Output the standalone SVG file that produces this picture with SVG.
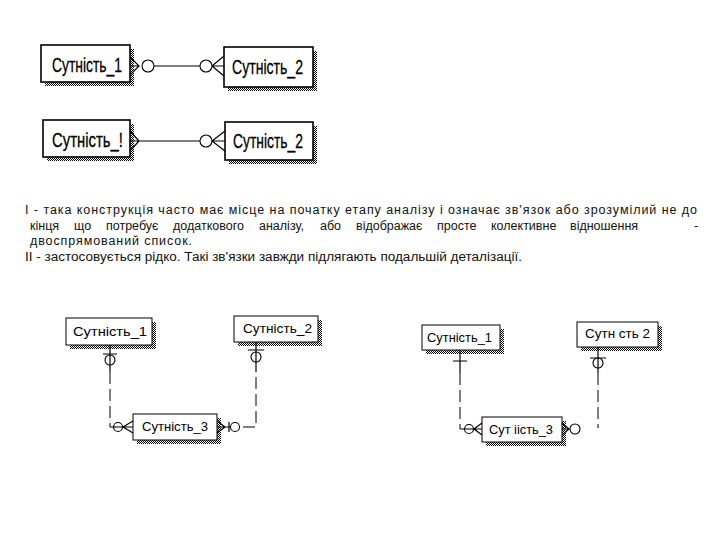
<svg xmlns="http://www.w3.org/2000/svg" width="720" height="540" viewBox="0 0 720 540">
<defs>
<pattern id="dots" width="2" height="2" patternUnits="userSpaceOnUse"><rect width="2" height="2" fill="#fff"/><rect width="1" height="1" fill="#000"/><rect x="1" y="1" width="1" height="1" fill="#000"/></pattern>
</defs>
<style>
.sh{fill:url(#dots)}
.box{fill:#fff;stroke:#000;stroke-width:1}
.boxT{fill:#fff;stroke:#000;stroke-width:1.6}
.lblT{font-family:"Liberation Sans",Arial,sans-serif;font-size:20px;fill:#000;stroke:#000;stroke-width:0.3}
.lbl{font-family:"Liberation Sans",Arial,sans-serif;font-size:13px;fill:#000}
.txt{font-family:"Liberation Sans",Arial,sans-serif;font-size:12.5px;fill:#111}
.ln{fill:none;stroke:#000;stroke-width:1.2}
.dash{fill:none;stroke:#000;stroke-width:1;stroke-dasharray:12 5}
.c{fill:#fff;stroke:#000;stroke-width:1.1}
</style>
<rect width="720" height="540" fill="#fff"/>

<g id="A1"><rect class="sh" x="45" y="49" width="89" height="37"/><rect class="boxT" x="41" y="45" width="89" height="37"/><text class="lblT" x="52" y="72" textLength="70" lengthAdjust="spacingAndGlyphs">Сутність_1</text></g>
<g id="A2"><rect class="sh" x="228" y="51" width="89" height="40"/><rect class="boxT" x="224" y="47" width="89" height="40"/><text class="lblT" x="232" y="74" textLength="71" lengthAdjust="spacingAndGlyphs">Сутність_2</text></g>
<g id="B1"><rect class="sh" x="47" y="124" width="87" height="37"/><rect class="boxT" x="43" y="120" width="87" height="37"/><text class="lblT" x="52" y="147" textLength="71" lengthAdjust="spacingAndGlyphs">Сутність_!</text></g>
<g id="B2"><rect class="sh" x="229" y="126" width="88" height="38"/><rect class="boxT" x="225" y="122" width="88" height="38"/><text class="lblT" x="233" y="148" textLength="70" lengthAdjust="spacingAndGlyphs">Сутність_2</text></g>

<g id="C1"><rect class="sh" x="70" y="322" width="86" height="27"/><rect class="box" x="66" y="318" width="86" height="27"/><text class="lbl" x="73" y="336" textLength="74" lengthAdjust="spacingAndGlyphs">Сутність_1</text></g>
<g id="C2"><rect class="sh" x="238" y="320" width="84" height="26"/><rect class="box" x="234" y="316" width="84" height="26"/><text class="lbl" x="243" y="333" textLength="69" lengthAdjust="spacingAndGlyphs">Сутність_2</text></g>
<g id="C3"><rect class="sh" x="137" y="418" width="84" height="26"/><rect class="box" x="133" y="414" width="84" height="26"/><text class="lbl" x="142" y="431" textLength="66" lengthAdjust="spacingAndGlyphs">Сутність_3</text></g>
<g id="D1"><rect class="sh" x="426" y="329" width="78" height="25"/><rect class="box" x="422" y="325" width="78" height="25"/><text class="lbl" x="427" y="342" textLength="65" lengthAdjust="spacingAndGlyphs">Сутність_1</text></g>
<g id="D2"><rect class="sh" x="581" y="326" width="81" height="25"/><rect class="box" x="577" y="322" width="81" height="25"/><text class="lbl" x="585" y="338" textLength="65" lengthAdjust="spacingAndGlyphs">Сутн сть 2</text></g>
<g id="D3"><rect class="sh" x="486" y="421" width="80" height="25"/><rect class="box" x="482" y="417" width="80" height="25"/><text class="lbl" x="489" y="434" textLength="64" lengthAdjust="spacingAndGlyphs">Сут іість_3</text></g>

<g id="connectors">
<path class="ln" d="M130 57 L139 66 L130 75 M130 66 H139 M154 66 H200 M212 66 L224 56 M212 66 H224 M212 66 L224 76"/>
<circle class="c" cx="148" cy="66" r="6"/>
<circle class="c" cx="206" cy="66" r="6"/>
<path class="ln" d="M130 131 L139 141 L130 151 M130 141 H200 M212 141 L225 131 M212 141 H225 M212 141 L225 151"/>
<circle class="c" cx="206" cy="141" r="6"/>
<path class="ln" d="M110 345 V372 M103 354 H117 M110 427 H133 M123 427 L133 421 M123 427 L133 433"/>
<path class="dash" d="M110 372 V427"/>
<circle cx="110" cy="360" r="5" fill="none" stroke="#000" stroke-width="1.1"/>
<circle cx="118" cy="427" r="4.5" fill="none" stroke="#000" stroke-width="1.1"/>
<path class="ln" d="M217 421 L225 427 L217 433 M217 427 H240 M229 422 V432 M256 342 V372 M248 350 H264"/>
<circle class="c" cx="235" cy="427" r="4.5"/>
<path class="dash" d="M243 427 H256 V372"/>
<circle cx="256" cy="357" r="5" fill="none" stroke="#000" stroke-width="1.1"/>
<path class="ln" d="M460 350 V373 M453 361 H467 M460 429 H482 M474 429 L482 423 M474 429 L482 435"/>
<path class="dash" d="M460 373 V429"/>
<circle cx="469" cy="429" r="4.5" fill="none" stroke="#000" stroke-width="1.1"/>
<path class="ln" d="M562 423 L569 429 L562 435 M562 429 H569 M598 347 V373 M590 358 H606"/>
<circle class="c" cx="575" cy="429" r="5"/>
<path class="dash" d="M598 373 V428"/>
<circle cx="598" cy="363" r="5" fill="none" stroke="#000" stroke-width="1.1"/>
</g>

<g id="notes" class="txt">
<text x="25" y="214" textLength="672" lengthAdjust="spacing">I  - така конструкція часто має місце на початку етапу аналізу і означає зв'язок   або зрозумілий не до</text>
<text y="230"><tspan x="30">кінця</tspan><tspan x="74">що</tspan><tspan x="106">потребує</tspan><tspan x="173">додаткового</tspan><tspan x="259">аналізу,</tspan><tspan x="320">або</tspan><tspan x="356">відображає</tspan><tspan x="437">просте</tspan><tspan x="491">колективне</tspan><tspan x="570">відношення</tspan><tspan x="694">-</tspan></text>
<text x="30" y="245" textLength="162" lengthAdjust="spacing">двоспрямований список.</text>
<text x="25" y="261" textLength="497" lengthAdjust="spacingAndGlyphs">II  - застосовується рідко. Такі зв'язки завжди підлягають подальшій деталізації.</text>
</g>
</svg>
